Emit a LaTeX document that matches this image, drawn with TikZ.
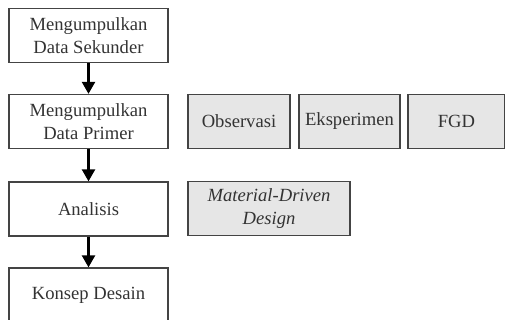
\documentclass[tikz,border=0pt]{standalone}
\usepackage{fontspec}
\setmainfont{Liberation Serif}
\usetikzlibrary{arrows.meta}
\definecolor{edge}{HTML}{444444}
\definecolor{txt}{HTML}{333333}
\definecolor{shade}{HTML}{E6E6E6}
\begin{document}
\begin{tikzpicture}[x=1pt,y=-1pt,
  box/.style={draw=edge,line width=1.3pt,minimum width=159pt,minimum height=54pt,
    inner sep=0pt,align=center,text=txt,font=\fontsize{18.6}{23}\selectfont},
  graybox/.style={box,fill=shade},
  flow/.style={line width=2.4pt,-{Triangle[length=12pt,width=13pt]}}]
\useasboundingbox (0,0) rectangle (505,320);
\clip (0,0) rectangle (505,320);
\node[box] (b1) at (88.5,35.5) {Mengumpulkan\\Data Sekunder};
\node[box] (b2) at (88.5,121.5) {Mengumpulkan\\Data Primer};
\node[box] (b3) at (88.5,209) {Analisis};
\node[box] (b4) at (88.5,295) {Konsep Desain};
\node[graybox,minimum width=102pt] (obs) at (239,121.5) {Observasi};
\node[graybox,minimum width=101pt] (eks) at (349.5,121.5) {Eksperimen};
\node[graybox,minimum width=97pt] (fgd) at (456.5,121.5) {FGD};
\node[graybox,minimum width=162pt] (mdd) at (269,208.5) {\itshape Material-Driven\\\itshape Design};
\draw[flow] (b1) -- (b2);
\draw[flow] (b2) -- (b3);
\draw[flow] (b3) -- (b4);
\end{tikzpicture}
\end{document}
